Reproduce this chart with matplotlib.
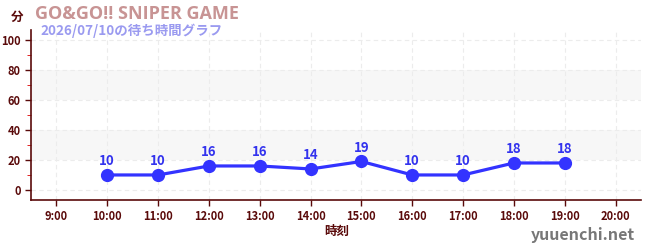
import matplotlib
matplotlib.use("Agg")
import matplotlib.pyplot as plt
from matplotlib.ticker import MultipleLocator

plt.rcParams['font.family'] = ['Noto Sans CJK JP', 'DejaVu Sans']

hours = [10, 11, 12, 13, 14, 15, 16, 17, 18, 19]
waits = [10, 10, 16, 16, 14, 19, 10, 10, 18, 18]
tick_hours = list(range(9, 21))
tick_labels = [f"{h}:00" for h in tick_hours]
title = "GO&GO!! SNIPER GAME"
subtitle = "2026/07/10の待ち時間グラフ"

axc = "#5a0a0a"
fig = plt.figure(figsize=(6.5, 2.5), dpi=100)
ax = fig.add_axes([31/650, 1-200/250, 610/650, 170/250])
ax.set_xlim(8.5, 20.5)
ax.set_ylim(-6.7, 106.7)

for lo, hi in [(20, 40), (60, 80)]:
    ax.axhspan(lo, hi, color="#f7f7f7", zorder=0, lw=0)
ax.grid(True, color="#ececec", ls=(0, (4, 3)), lw=0.8, zorder=0.5)

ax.plot(hours, waits, color="#3333ff", lw=2.3, marker="o", ms=8.5, zorder=3)
for h, w in zip(hours, waits):
    ax.annotate(str(w), (h, w), xytext=(0, 5), textcoords="offset points",
                ha="center", va="bottom", color="#3333ee", fontsize=9.5,
                fontweight="bold")

ax.set_xticks(tick_hours)
ax.set_xticklabels(tick_labels)
ax.set_yticks([0, 20, 40, 60, 80, 100])
ax.yaxis.set_minor_locator(MultipleLocator(10))
ax.tick_params(axis="both", colors=axc, labelsize=8, length=4, width=1)
ax.tick_params(axis="y", which="minor", colors="#dd0000", length=3)
for lab in ax.get_xticklabels() + ax.get_yticklabels():
    lab.set_fontweight("bold")
    lab.set_color(axc)
for s in ["top", "right"]:
    ax.spines[s].set_visible(False)
for s in ["left", "bottom"]:
    ax.spines[s].set_color(axc)
    ax.spines[s].set_linewidth(1.2)

fig.text(17/650, 1-17/250, "分", color=axc, fontsize=9, fontweight="bold",
         ha="center", va="center")
fig.text(35/650, 1-14/250, title, color="#c89494", fontsize=13,
         fontweight="bold", ha="left", va="center",
         family=["Open Sans", "DejaVu Sans"])
fig.text(40/650, 1-31/250, subtitle, color="#9a9af0", fontsize=9.7,
         fontweight="bold", ha="left", va="center")
fig.text(337/650, 1-231/250, "時刻", color=axc, fontsize=9, fontweight="bold",
         ha="center", va="center")
fig.text(635/650, 1-235/250, "yuuenchi.net", color="#777777", fontsize=11.5,
         fontweight="bold", ha="right", va="center")

fig.savefig("out.png", dpi=100)
